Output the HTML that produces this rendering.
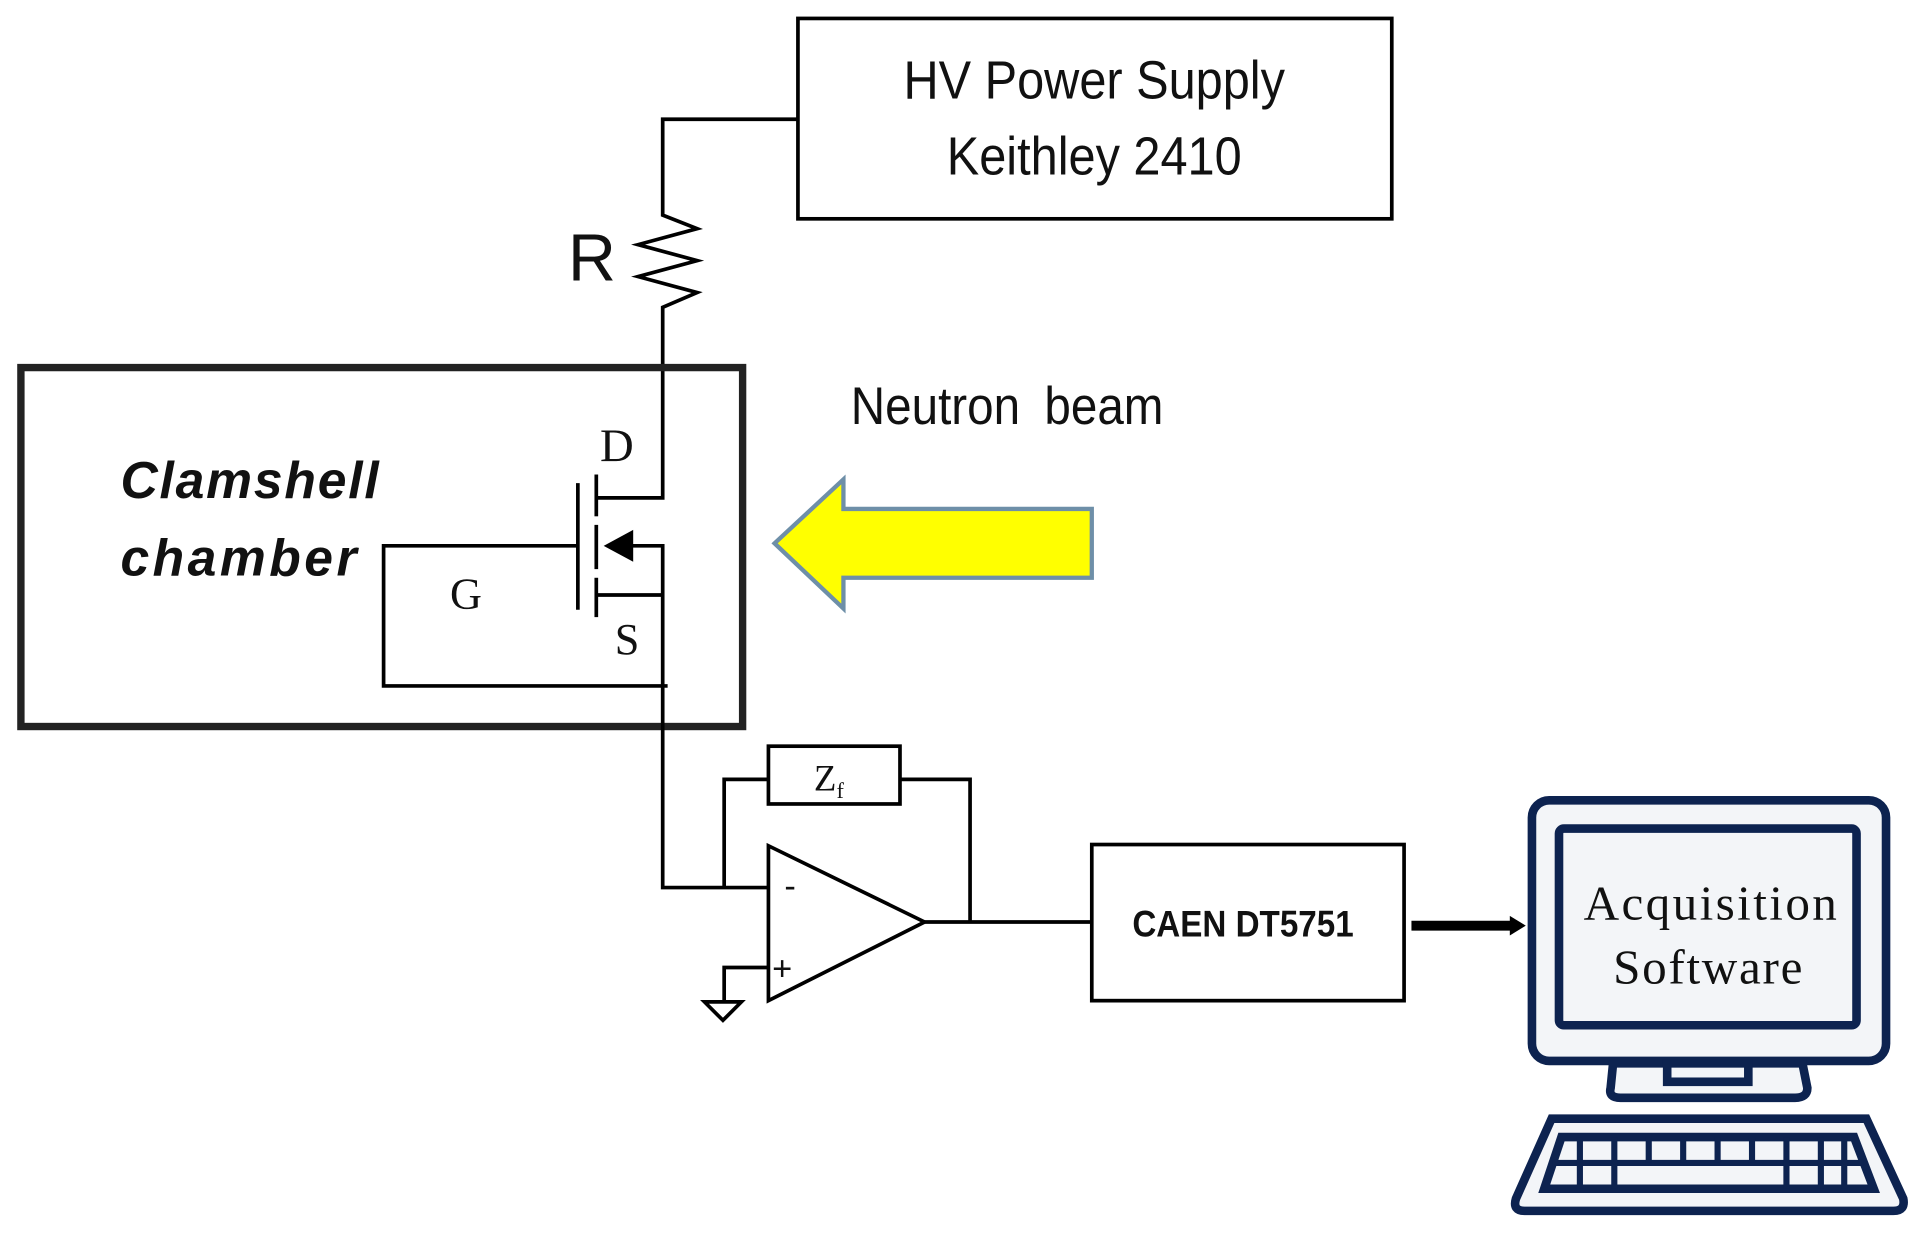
<!DOCTYPE html>
<html><head><meta charset="utf-8"><style>html,body{margin:0;padding:0;background:#fff;overflow:hidden}svg{display:block}</style></head>
<body>
<svg width="1918" height="1233" viewBox="0 0 1560 1003" preserveAspectRatio="none" xmlns="http://www.w3.org/2000/svg">
<rect width="1560" height="1003" fill="#fff"/>
<g fill="none" stroke="#000" stroke-width="3">
<rect x="649" y="15" width="483" height="163"/>
<polyline points="649,97 539,97 539,175 567,186 519,199 567,212 519,225 567,238 539,250 539,405 485,405"/>
<rect x="17" y="299" width="587" height="292" stroke-width="6" stroke="#222"/>
<line x1="470" y1="393" x2="470" y2="496"/>
<line x1="485" y1="386" x2="485" y2="420"/>
<line x1="485" y1="427" x2="485" y2="463"/>
<line x1="485" y1="470" x2="485" y2="502"/>
<polyline points="512,444 539,444 539,722 625,722"/>
<line x1="485" y1="484" x2="539" y2="484"/>
<polyline points="470,444 312,444 312,558 543,558"/>
<polygon points="625,688 625,814 752,750"/>
<polyline points="589,722 589,634 625,634"/>
<rect x="625" y="607" width="107" height="47"/>
<polyline points="732,634 789,634 789,750"/>
<line x1="752" y1="750" x2="888" y2="750"/>
<polyline points="625,787 589,787 589,815"/>
<polygon points="573,815 603,815 588,830"/>
<rect x="888" y="687" width="254" height="127"/>
</g>
<polygon points="491,444 515,431 515,457" fill="#000"/>
<line x1="1148" y1="753" x2="1230" y2="753" stroke="#000" stroke-width="8"/>
<polygon points="1228,745 1241,753 1228,761" fill="#000"/>
<polygon points="630,442 686,390 686,414 888,414 888,470 686,470 686,495" fill="#ffff00" stroke="#6e8fa8" stroke-width="3.5"/>
<g font-family="Liberation Sans, sans-serif" fill="#111">
<text x="890" y="80" font-size="44" text-anchor="middle" transform="translate(890,0) scale(0.9,1) translate(-890,0)">HV Power Supply</text>
<text x="890" y="142" font-size="44" text-anchor="middle" transform="translate(890,0) scale(0.9,1) translate(-890,0)">Keithley 2410</text>
<text x="462" y="228" font-size="54">R</text>
<text x="692" y="345" font-size="43" transform="translate(692,0) scale(0.9,1) translate(-692,0)">Neutron<tspan dx="22">beam</tspan></text>
<text x="98" y="405" font-size="42" font-weight="bold" font-style="italic" textLength="210">Clamshell</text>
<text x="98" y="468" font-size="42" font-weight="bold" font-style="italic" textLength="192">chamber</text>
<text x="1011" y="762" font-size="30" font-weight="bold" text-anchor="middle" transform="translate(1011,0) scale(0.9,1) translate(-1011,0)">CAEN DT5751</text>
<text x="638" y="730" font-size="28">-</text>
<text x="628" y="797" font-size="28">+</text>
</g>
<g font-family="Liberation Serif, serif" fill="#111">
<text x="488" y="375" font-size="38">D</text>
<text x="366" y="495" font-size="36">G</text>
<text x="500" y="532" font-size="36">S</text>
<text x="662" y="643" font-size="30">Z<tspan font-size="18" dy="6">f</tspan></text>
</g>
<g stroke="#0d2350" stroke-width="7" fill="#f3f5f8">
<rect x="1246" y="651" width="288" height="212" rx="14"/>
<rect x="1268" y="674" width="242" height="160" rx="4"/>
<path d="M1312,865 L1466,865 L1470,885 Q1470,893 1460,893 L1318,893 Q1308,893 1310,885 Z"/>
<rect x="1356" y="865" width="66" height="15"/>
<path d="M1262,910 L1518,910 L1548,975 Q1550,985 1540,985 L1240,985 Q1230,985 1233,975 Z"/>
<path d="M1270,925 L1508,925 L1524,967 L1256,967 Z" fill="#f3f5f8"/>
</g>
<g stroke="#0d2350" stroke-width="5">
<line x1="1263" y1="946" x2="1516" y2="946"/>
<line x1="1285" y1="925" x2="1285" y2="967"/>
<line x1="1313" y1="925" x2="1313" y2="967"/>
<line x1="1341" y1="925" x2="1341" y2="946"/>
<line x1="1369" y1="925" x2="1369" y2="946"/>
<line x1="1397" y1="925" x2="1397" y2="946"/>
<line x1="1425" y1="925" x2="1425" y2="946"/>
<line x1="1453" y1="925" x2="1453" y2="967"/>
<line x1="1481" y1="925" x2="1481" y2="967"/>
<line x1="1500" y1="925" x2="1500" y2="967"/>
</g>
<g font-family="Liberation Serif, serif" fill="#111" font-size="40" text-anchor="middle">
<text x="1391" y="748" textLength="206">Acquisition</text>
<text x="1389" y="800" textLength="154">Software</text>
</g>
</svg>
</body></html>
